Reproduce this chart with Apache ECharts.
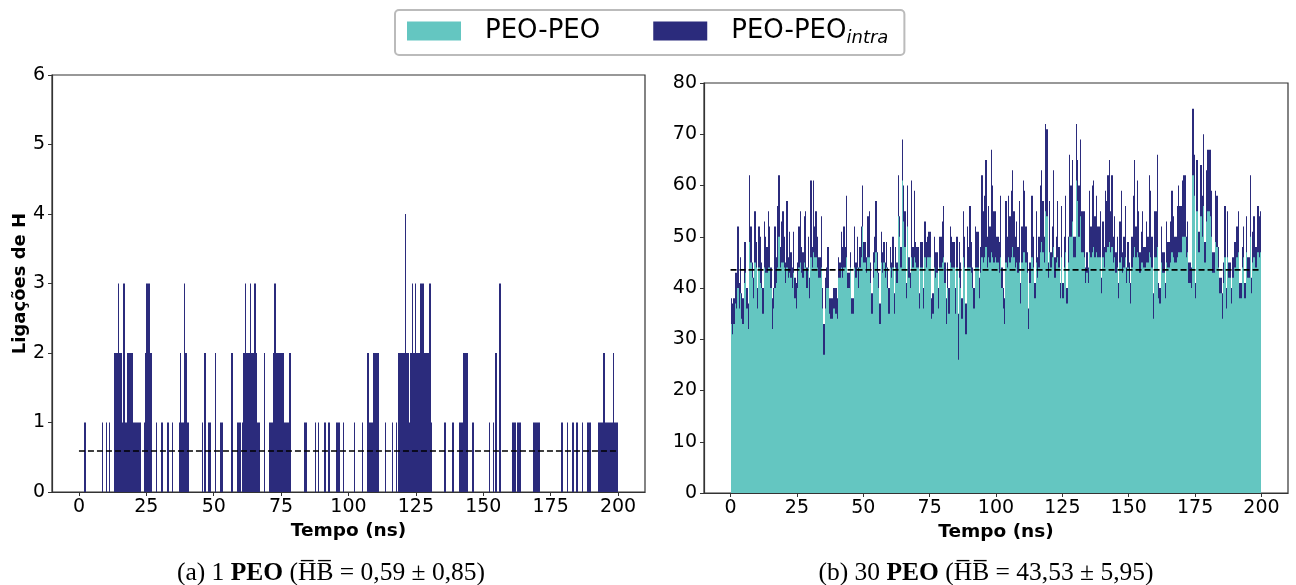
<!DOCTYPE html>
<html>
<head>
<meta charset="utf-8">
<script src="https://cdn.jsdelivr.net/npm/echarts@6/dist/echarts.min.js"></script>
<style>
html,body{margin:0;padding:0;background:#fff;}
#c{width:1296px;height:585px;}
</style>
</head>
<body>
<div id="c"></div>
<script>
// ---------- DATA ----------
const xTicks = [0, 25, 50, 75, 100, 125, 150, 175, 200];
const step = 0.5; // ns between samples

// Panel (a) 1 PEO : runs of PEO-PEO_intra H-bonds [start ns, end ns, count]
const leftRuns = [
  [2,2.5,1],[8.5,9,1],[10,10.5,1],[11,11.5,1],
  [13,21,1],[13,14.5,2],[14.5,15,3],[15,16,2],[16.5,17,3],[18,20,2],
  [21,23,1],
  [24,27,1],[24.5,25,2],[25,26.5,3],[26.5,27,2],
  [28.5,29,1],[30.5,31,1],[32.5,33.5,1],[34.5,35,1],
  [37,41,1],[37.5,38,2],[39,39.5,3],[39.5,40,2],
  [45.5,46,1],[46.5,47,2],[48,49,1],[50.5,51,2],[52.5,53.5,1],
  [56.5,57,2],[58.5,60,1],
  [60.5,67,1],[61,66,2],[61.5,62,3],[63.5,64,3],[65,65.5,3],
  [68.5,69,2],
  [70.5,78,1],[72,76,2],[72.5,73,3],[78,78.5,2],
  [83.5,84.5,1],[87.5,88,1],[88.5,89,1],[91,91.5,1],[92.5,93,1],[95.5,97,1],[98,98.5,1],
  [102,102.5,1],[105,105.5,1],
  [107,111.5,1],[107,107.5,2],[109,111.5,2],
  [113.5,114,1],[116,116.5,1],[117.5,118,1],
  [118.5,131,1],[118.5,122.5,2],[121,121.5,4],[123,130.5,2],[123.5,124,3],[124.5,125,3],[126.5,128,3],[130,130.5,3],
  [135.5,136,1],[138.5,139,1],[141,142.5,1],[142.5,144.5,2],
  [146,146.5,1],[152,152.5,1],[153.5,154,1],[154.5,155,2],[156,156.5,3],
  [160.5,162,1],[162.5,164,1],[168.5,171,1],
  [179,179.5,1],[181,181.5,1],[183,183.5,1],[184.5,185,1],[186.5,187,1],[188.5,190,1],
  [192.5,200,1],[194.5,195,2],[198,198.5,2]
];
const meanLeft = 0.59, sdLeft = 0.85;

// Panel (b) 30 PEO : top of the navy (PEO-PEO_intra) bars, every 0.5 ns from 0 to 200 ns
const rightNavy = [
  38,37,38,43,43,52,41,46,39,38,49,49,40,37,62,52,45,42,55,49,
  40,52,50,45,40,53,50,48,55,52,44,38,40,52,46,56,62,48,53,55,
  50,45,57,46,51,47,44,51,42,41,45,52,55,48,47,54,55,44,50,42,
  61,48,61,52,55,50,46,46,54,40,33,42,44,48,38,38,38,40,40,40,
  38,46,45,51,48,52,48,58,43,43,47,38,38,52,45,50,44,48,52,60,
  49,49,46,54,55,45,39,47,50,57,47,43,37,51,47,49,45,49,44,40,
  48,45,50,39,48,45,62,54,48,69,60,55,41,60,46,43,61,48,59,49,
  48,48,39,49,49,40,53,49,50,51,51,38,39,50,47,47,40,50,50,53,
  56,45,38,45,40,52,50,49,49,40,50,35,49,45,38,55,50,37,52,48,
  56,49,44,40,52,51,51,42,48,62,55,58,65,50,56,52,67,60,55,55,
  50,50,49,58,44,40,38,57,50,58,54,59,63,55,50,53,48,57,41,52,
  61,59,52,47,36,45,58,58,50,41,55,46,50,60,63,57,50,72,71,45,
  57,47,52,63,46,50,57,48,41,56,41,50,58,40,50,66,60,65,50,50,
  72,65,60,69,55,55,55,44,47,44,59,52,60,61,54,58,52,52,55,42,
  53,48,59,57,62,65,55,62,50,54,47,50,41,53,59,47,50,56,44,49,
  45,41,50,58,65,52,61,55,47,51,55,48,48,53,50,62,59,50,39,55,
  55,66,41,40,52,47,47,41,53,49,49,53,59,54,50,50,56,60,56,56,
  61,62,62,50,53,45,45,44,75,66,41,65,51,51,64,58,70,49,63,67,
  67,67,59,47,47,59,58,48,42,42,39,45,56,40,55,45,45,40,46,49,
  49,52,55,41,41,48,52,41,54,46,46,62,42,51,54,48,48,56,54,55,
  48
];
// Panel (b) : top of the teal (PEO-PEO) bars, every 0.5 ns from 0 to 200 ns
const rightTeal = [
  33,31,33,37,36,40,36,39,34,33,41,43,36,32,49,45,42,38,45,44,
  36,44,41,40,35,44,43,43,44,44,40,32,36,40,41,44,50,44,45,45,
  44,41,44,42,43,42,40,43,38,36,40,44,45,43,42,45,44,40,44,38,
  46,44,47,46,46,44,42,42,44,36,27,36,40,40,35,34,34,36,36,35,
  34,42,42,44,42,44,44,46,40,40,44,35,35,44,42,44,40,44,46,52,
  45,45,43,46,46,41,35,42,45,47,43,40,33,45,43,45,42,44,40,35,
  44,42,44,35,44,41,54,50,44,61,53,48,38,52,42,40,46,44,46,45,
  44,44,36,44,44,36,46,44,46,46,46,34,35,44,42,43,36,44,44,45,
  46,41,33,40,35,45,44,44,44,35,44,26,42,40,34,46,44,31,44,44,
  44,43,40,36,44,44,44,38,43,46,45,46,48,44,46,45,47,46,45,46,
  45,45,43,46,40,36,33,45,44,46,45,46,48,46,44,45,43,45,37,45,
  47,47,45,43,32,41,46,46,44,38,45,42,44,47,49,47,45,55,54,42,
  47,44,46,48,42,45,46,44,38,46,38,44,47,37,45,50,50,53,46,46,
  61,57,50,54,47,47,46,41,43,41,47,46,47,48,46,47,46,46,46,39,
  46,44,47,47,48,49,47,48,45,46,43,44,38,45,46,43,44,46,41,44,
  41,37,44,46,48,46,47,46,43,45,45,44,44,45,45,47,46,44,34,46,
  46,48,38,37,45,43,43,38,45,44,44,45,47,46,45,45,46,47,47,47,
  50,50,50,46,47,41,41,40,62,58,38,55,47,47,54,50,56,45,53,55,
  55,54,50,43,43,49,48,44,39,39,34,41,46,36,46,42,42,37,42,44,
  44,46,47,38,38,44,46,38,47,42,42,50,39,45,46,44,44,47,46,47,
  44
];
const meanRight = 43.53, sdRight = 5.95;

// ---------- BUILD BAR DATA : [start ns, end ns, count], one bar per sample ----------
const nSamples = Math.round(200 / step) + 1;
const leftVals = [];
for (let i = 0; i < nSamples; i++) {
  const t = i * step;
  let v = 0;
  for (const r of leftRuns) { if (t >= r[0] - 1e-9 && t < r[1] - 1e-9 && r[2] > v) v = r[2]; }
  leftVals.push(v);
}
function toBars(vals) {
  const out = [];
  for (let i = 0; i < vals.length - 1; i++) {
    if (vals[i] > 0) out.push([i * step, (i + 1) * step, vals[i]]);
  }
  return out;
}
const leftBars = toBars(leftVals);
const navyBars = toBars(rightNavy);
const tealBars = toBars(rightTeal.map((v, i) => Math.min(v, rightNavy[i])));

const NAVY = '#2b2b7c', TEAL = '#64c6c1', AX = '#333';
const fmt = v => v.toFixed(2).replace('.', ',');

function barRenderer(color) {
  return function (params, api) {
    const a = api.coord([api.value(0), api.value(2)]);
    const b = api.coord([api.value(1), 0]);
    const x0 = Math.round(a[0]), x1 = Math.round(b[0]);
    return {
      type: 'rect',
      shape: { x: x0, y: a[1], width: Math.max(1, x1 - x0), height: b[1] - a[1] },
      style: { fill: color }
    };
  };
}

function xAxisCfg(idx) {
  return {
    type: 'value', gridIndex: idx, min: -10, max: 210,
    name: 'Tempo (ns)', nameLocation: 'middle', nameGap: 25,
    nameTextStyle: { fontFamily: 'DejaVu Sans', fontWeight: 'bold', fontSize: 18.5, color: '#000' },
    axisLine: { show: true, onZero: false, lineStyle: { color: AX, width: 1.2 } },
    axisTick: { show: true, length: 4, customValues: xTicks, lineStyle: { color: AX } },
    axisLabel: { customValues: xTicks, margin: 6, fontFamily: 'DejaVu Sans', fontSize: 19, color: '#000' },
    splitLine: { show: false }
  };
}
function yAxisCfg(idx, max, interval, name) {
  return {
    type: 'value', gridIndex: idx, min: 0, max: max, interval: interval,
    name: name, nameLocation: 'middle', nameGap: 22,
    nameTextStyle: { fontFamily: 'DejaVu Sans', fontWeight: 'bold', fontSize: 18, color: '#000' },
    axisLine: { show: true, onZero: false, lineStyle: { color: AX, width: 1.2 } },
    axisTick: { show: true, length: 4, lineStyle: { color: AX } },
    axisLabel: { margin: 7, fontFamily: 'DejaVu Sans', fontSize: 19, color: '#000' },
    splitLine: { show: false }
  };
}

const capRich = {
  n: { fontFamily: 'Liberation Serif', fontSize: 25.5, fill: '#000', color: '#000' },
  b: { fontFamily: 'Liberation Serif', fontSize: 25.5, fontWeight: 'bold', fill: '#000', color: '#000' }
};
const OV = '\u0305';
function caption(label, count, mean, sd) {
  return '{n|(' + label + ') ' + count + ' }{b|PEO}{n| (H' + OV + 'B' + OV + ' = ' + fmt(mean) + ' \u00b1 ' + fmt(sd) + ')}';
}

const chart = echarts.init(document.getElementById('c'), null, { renderer: 'canvas' });
chart.setOption({
  animation: false,
  backgroundColor: '#fff',
  legend: {
    data: ['PEO-PEO', 'PEO-PEO_intra'],
    left: 395, top: 10,
    padding: [8, 16, 8, 12],
    itemWidth: 54, itemHeight: 19, itemGap: 53,
    icon: 'rect',
    borderColor: '#bbb', borderWidth: 2, borderRadius: 4,
    backgroundColor: '#fff',
    formatter: function (name) {
      return name === 'PEO-PEO_intra' ? '{a|PEO-PEO}{s|intra}' : '{a|PEO-PEO}';
    },
    textStyle: {
      fontFamily: 'DejaVu Sans', fontSize: 26, color: '#000',
      rich: {
        a: { fontFamily: 'DejaVu Sans', fontSize: 26, color: '#000', padding: [0, 0, 0, 19] },
        s: { fontFamily: 'DejaVu Sans', fontSize: 18, fontStyle: 'italic', color: '#000', padding: [14, 0, 0, 0] }
      }
    }
  },
  grid: [
    { left: 52, right: 651, top: 75, bottom: 93, show: true, borderColor: AX, borderWidth: 1.2, backgroundColor: 'transparent' },
    { left: 704, right: 8, top: 83, bottom: 92, show: true, borderColor: AX, borderWidth: 1.2, backgroundColor: 'transparent' }
  ],
  xAxis: [xAxisCfg(0), xAxisCfg(1)],
  yAxis: [yAxisCfg(0, 6, 1, 'Ligações de H'), yAxisCfg(1, 80, 10, '')],
  series: [
    {
      name: 'PEO-PEO_intra', type: 'custom', xAxisIndex: 0, yAxisIndex: 0,
      data: leftBars, encode: { x: [0, 1], y: 2 }, renderItem: barRenderer(NAVY),
      itemStyle: { color: NAVY }, z: 2, silent: true
    },
    {
      name: 'PEO-PEO_intra', type: 'custom', xAxisIndex: 1, yAxisIndex: 1,
      data: navyBars, encode: { x: [0, 1], y: 2 }, renderItem: barRenderer(NAVY),
      itemStyle: { color: NAVY }, z: 2, silent: true
    },
    {
      name: 'PEO-PEO', type: 'custom', xAxisIndex: 1, yAxisIndex: 1,
      data: tealBars, encode: { x: [0, 1], y: 2 }, renderItem: barRenderer(TEAL),
      itemStyle: { color: TEAL }, z: 3, silent: true
    },
    {
      name: 'meanL', type: 'line', xAxisIndex: 0, yAxisIndex: 0,
      data: [[0, meanLeft], [200, meanLeft]], symbol: 'none',
      lineStyle: { color: '#000', width: 1.6, type: [6, 3] }, z: 5, silent: true
    },
    {
      name: 'meanR', type: 'line', xAxisIndex: 1, yAxisIndex: 1,
      data: [[0, meanRight], [200, meanRight]], symbol: 'none',
      lineStyle: { color: '#000', width: 1.6, type: [6, 3] }, z: 5, silent: true
    }
  ],
  graphic: [
    { type: 'text', x: 331, y: 573, style: { text: caption('a', 1, meanLeft, sdLeft), rich: capRich, align: 'center', verticalAlign: 'middle', fill: '#000' } },
    { type: 'text', x: 986, y: 573, style: { text: caption('b', 30, meanRight, sdRight), rich: capRich, align: 'center', verticalAlign: 'middle', fill: '#000' } }
  ]
});
</script>
</body>
</html>
